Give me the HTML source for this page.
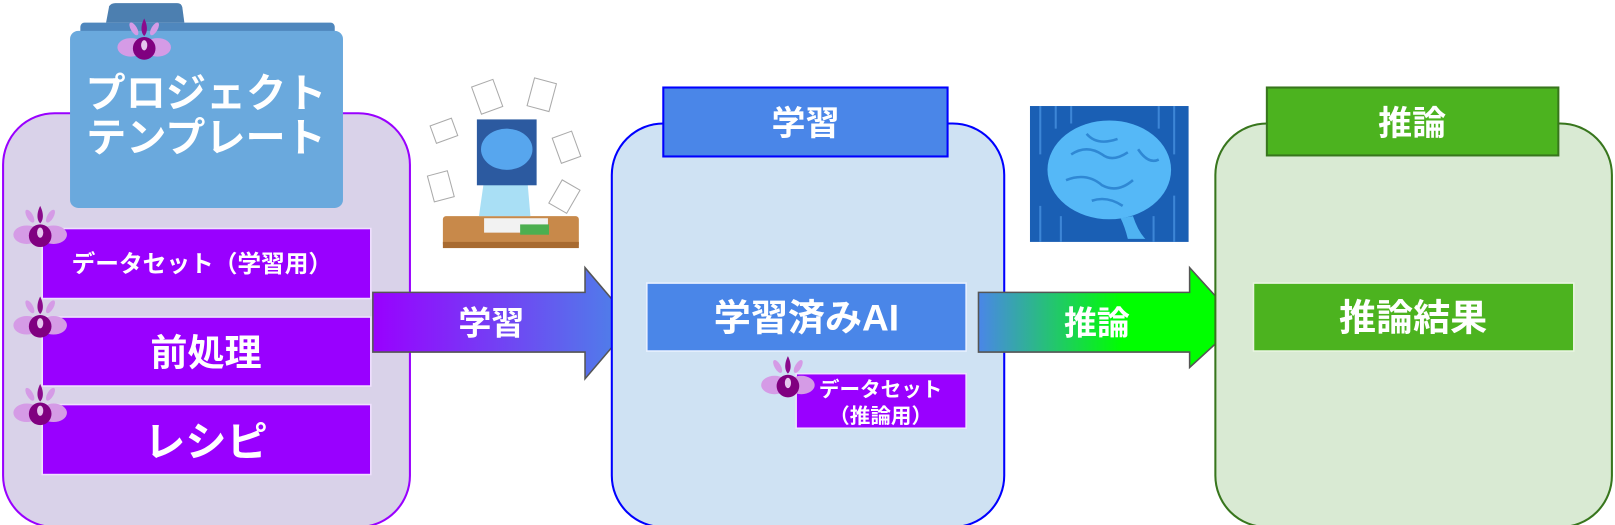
<!DOCTYPE html>
<html><head><meta charset="utf-8"><style>
html,body{margin:0;padding:0;background:#fff;width:1615px;height:525px;overflow:hidden}
svg text{font-family:"Liberation Sans","Noto Sans CJK JP",sans-serif;font-weight:bold;fill:#fff}
</style></head><body>
<svg width="1615" height="525" viewBox="0 0 1568 510" preserveAspectRatio="none" xmlns="http://www.w3.org/2000/svg">
<defs>
<linearGradient id="g1" x1="0" x2="1"><stop offset="0" stop-color="#9900ff"/><stop offset="1" stop-color="#4a86e8"/></linearGradient>
<linearGradient id="g2" x1="0" x2="1"><stop offset="0" stop-color="#4a86e8"/><stop offset="0.55" stop-color="#00ff00"/><stop offset="1" stop-color="#00ff00"/></linearGradient>
<g id="fl">
<ellipse cx="-13" cy="6" rx="13" ry="9" fill="#d59be6"/>
<ellipse cx="13" cy="6" rx="13" ry="9" fill="#d59be6"/>
<ellipse cx="-10" cy="-12" rx="3" ry="7" fill="#d59be6" transform="rotate(-30 -10 -12)"/>
<ellipse cx="10" cy="-12" rx="3" ry="7" fill="#d59be6" transform="rotate(30 10 -12)"/>
<path d="M0 -22 C4 -14 3 -8 0 -5 C-3 -8 -4 -14 0 -22Z" fill="#8a0b8c"/>
<circle cx="0" cy="7" r="11" fill="#800080"/>
<ellipse cx="0" cy="4" rx="3" ry="5" fill="#e6c6ee"/>
</g>
</defs>

<rect x="3" y="110" width="395" height="402" rx="50" fill="#d9d2e9" stroke="#9900ff" stroke-width="2"/>
<path d="M103 22 L106 6 Q108 3 112 3 L172 3 Q176 3 177 7 L179 22 Z" fill="#4c7fb0"/>
<rect x="78" y="22" width="247" height="20" rx="4" fill="#4f87bd"/>
<rect x="68" y="30" width="265" height="172" rx="8" fill="#6aa9dd"/>
<use href="#fl" x="140" y="40"/>
<text x="200" y="104" font-size="39" text-anchor="middle">プロジェクト</text>
<text x="200" y="147" font-size="39" text-anchor="middle">テンプレート</text>
<rect x="41" y="222" width="319" height="68" fill="#9900ff" stroke="#f0e0ff" stroke-width="1.5"/>
<text x="196" y="264" font-size="23" text-anchor="middle">データセット（学習用）</text>
<rect x="41" y="308" width="319" height="67" fill="#9900ff" stroke="#f0e0ff" stroke-width="1.5"/>
<text x="200" y="355" font-size="36" text-anchor="middle">前処理</text>
<rect x="41" y="393" width="319" height="68" fill="#9900ff" stroke="#f0e0ff" stroke-width="1.5"/>
<text x="200" y="443" font-size="40" text-anchor="middle">レシピ</text>
<use href="#fl" x="39" y="222"/>
<use href="#fl" x="39" y="310"/>
<use href="#fl" x="39" y="395"/>

<path d="M362 284 L568 284 L568 260 L614 314 L568 368 L568 342 L362 342 Z" fill="url(#g1)" stroke="#555" stroke-width="1.5"/>
<text x="477" y="325" font-size="32" text-anchor="middle">学習</text>

<g>
<rect x="430" y="210" width="132" height="30" rx="3" fill="#c8894a"/>
<rect x="430" y="235" width="132" height="6" fill="#a86a30"/>
<path d="M470 175 Q466 155 490 150 Q515 155 512 175 L515 210 L465 210 Z" fill="#a9dff5"/>
<rect x="463" y="116" width="58" height="64" fill="#2c5aa0"/>
<ellipse cx="492" cy="145" rx="25" ry="20" fill="#57a6ee"/>
<rect x="470" y="212" width="62" height="14" fill="#f2f2f2"/>
<rect x="505" y="218" width="28" height="10" fill="#4caf50"/>
<rect x="420" y="118" width="22" height="18" fill="#fff" stroke="#aaa" transform="rotate(-20 431 127)"/>
<rect x="462" y="80" width="22" height="28" fill="#fff" stroke="#aaa" transform="rotate(-20 473 94)"/>
<rect x="515" y="78" width="22" height="28" fill="#fff" stroke="#aaa" transform="rotate(15 526 92)"/>
<rect x="540" y="130" width="20" height="26" fill="#fff" stroke="#aaa" transform="rotate(-20 550 143)"/>
<rect x="418" y="168" width="20" height="26" fill="#fff" stroke="#aaa" transform="rotate(-15 428 181)"/>
<rect x="538" y="178" width="20" height="26" fill="#fff" stroke="#aaa" transform="rotate(30 548 191)"/>
</g>

<rect x="594" y="120" width="381" height="392" rx="50" fill="#cfe2f3" stroke="#0000ff" stroke-width="2"/>
<rect x="644" y="85" width="276" height="67" fill="#4a86e8" stroke="#0000ff" stroke-width="2"/>
<text x="782" y="131" font-size="33" text-anchor="middle">学習</text>
<rect x="628" y="275" width="310" height="66" fill="#4a86e8" stroke="#e8f0ff" stroke-width="1.5"/>
<text x="783" y="321" font-size="36" text-anchor="middle">学習済みAI</text>
<rect x="773" y="363" width="165" height="53" fill="#9900ff" stroke="#f0e0ff" stroke-width="1.5"/>
<text x="855" y="385" font-size="20" text-anchor="middle">データセット</text>
<text x="855" y="411" font-size="20" text-anchor="middle">（推論用）</text>
<use href="#fl" x="765" y="368"/>

<path d="M950 284 L1155 284 L1155 260 L1203 313 L1155 357 L1155 342 L950 342 Z" fill="url(#g2)" stroke="#555" stroke-width="1.5"/>
<text x="1065" y="325" font-size="32" text-anchor="middle">推論</text>

<rect x="1000" y="103" width="154" height="132" fill="#1a5fb4"/>
<g stroke="#3d86d6" stroke-width="2" fill="none">
<path d="M1010 103 V150 M1025 103 V125 M1040 103 V120 M1125 103 V125 M1140 103 V150 M1010 235 V200 M1030 235 V210 M1120 235 V210 M1140 235 V190"/>
</g>
<path d="M1100 210 Q1105 225 1112 232 L1095 232 Q1092 220 1088 212 Z" fill="#4fb3f2"/>
<ellipse cx="1077" cy="165" rx="60" ry="48" fill="#55b8f7"/>
<g stroke="#2f88d4" stroke-width="2.5" fill="none">
<path d="M1040 150 q15 -10 30 0 q10 8 25 -2 M1035 175 q20 -8 35 5 q15 8 30 -5 M1055 130 q10 12 30 5 M1060 195 q15 -5 30 5 M1105 145 q10 15 20 10"/>
</g>

<rect x="1180" y="120" width="385" height="392" rx="50" fill="#d9ead3" stroke="#38761d" stroke-width="2"/>
<rect x="1230" y="85" width="283" height="66" fill="#4cb31f" stroke="#38761d" stroke-width="2"/>
<text x="1371" y="131" font-size="33" text-anchor="middle">推論</text>
<rect x="1217" y="275" width="311" height="66" fill="#4cb31f" stroke="#e8f5e0" stroke-width="1.5"/>
<text x="1372" y="321" font-size="36" text-anchor="middle">推論結果</text>
</svg>
</body></html>
